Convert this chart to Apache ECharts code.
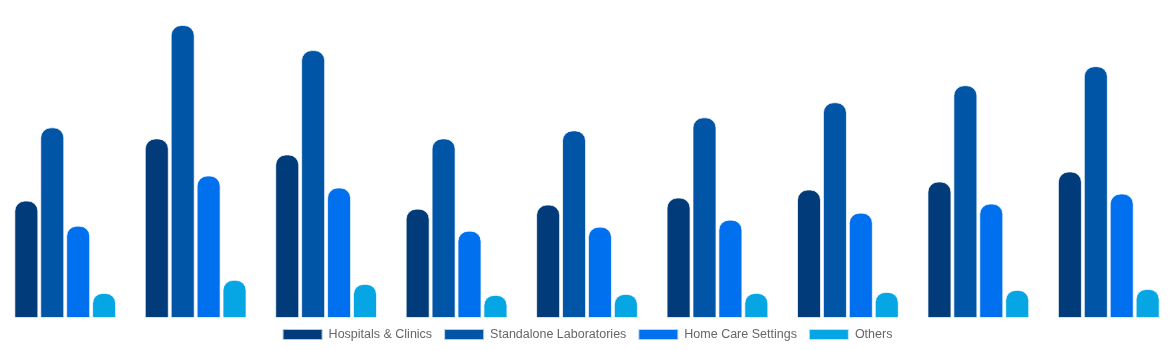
<!DOCTYPE html>
<html><head><meta charset="utf-8">
<script src="https://cdn.jsdelivr.net/npm/echarts@6/dist/echarts.min.js"></script>
<style>html,body{margin:0;padding:0;background:#fff}#c{width:1174px;height:350px}</style>
</head><body><div id="c"></div>
<script>
const categories = ['2024','2025','2026','2027','2028','2029','2030','2031','2032'];
const seriesNames = ['Hospitals & Clinics','Standalone Laboratories','Home Care Settings','Others'];
const hospitals = [117,179,163,109,113,120,128,136,146];
const laboratories = [190,292,267,179,187,200,215,232,251];
const homeCare = [92,142,130,87,91,98,105,114,124];
const others = [25,38,34,23,24,25,26,28,29];
const colors = ['#023b79','#0055a6','#0070ee','#05a6e3'];
const values = [hospitals, laboratories, homeCare, others];

const chart = echarts.init(document.getElementById('c'));
chart.setOption({
  animation:false,
  color: colors,
  grid:{left:0,right:0,top:17,bottom:32,containLabel:false},
  legend:{top:323,left:'center',itemWidth:40,itemHeight:11,itemGap:11,icon:'rect',
    textStyle:{color:'#666',fontSize:12.5,fontFamily:'"Liberation Sans", Arial, sans-serif',padding:[0,0,0,1]},
    data: seriesNames},
  xAxis:{type:'category',data:categories,show:false},
  yAxis:{type:'value',min:0,max:300,show:false,splitLine:{show:false}},
  series: seriesNames.map((n,i)=>({
    name:n,type:'bar',data:values[i],barWidth:24,barGap:'8%',
    itemStyle:{borderRadius:[10,10,0,0],borderColor:'rgba(255,255,255,0.7)',borderWidth:1}
  }))
});
</script></body></html>
